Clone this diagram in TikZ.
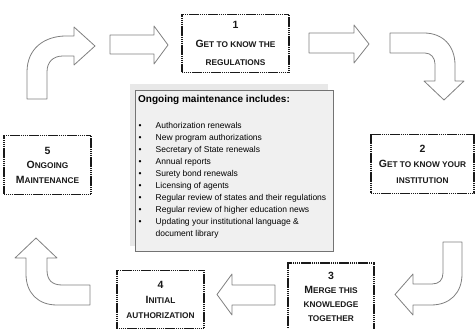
\documentclass[tikz,border=0pt]{standalone}
\usepackage{fontspec}
\setmainfont{Liberation Sans}
\newcommand\firstcap[2]{{\fontsize{10.5}{10.5}\selectfont #1}#2}

\begin{document}
\begin{tikzpicture}[x=1pt,y=-1pt,
  stepbox/.style={draw=black!90,line width=1.7pt,dash pattern=on 1.4pt off 0.5pt,
    align=center,inner sep=0pt,text=black!90,font=\bfseries\fontsize{8.3}{15}\selectfont},
  bigarrow/.style={draw=black!50,line width=0.8pt,fill=white,line join=round}]

\useasboundingbox (0,0) rectangle (475,329);

% block arrows round the cycle
\draw[bigarrow] (27,99) -- (27,72) .. controls (27,48) and (45,36) .. (66,36) -- (74,36) -- (74,27)
  -- (95,46) -- (74,65) -- (74,56) -- (63,56) .. controls (53,56) and (47,62) .. (47,72) -- (47,99) -- cycle;
\draw[bigarrow] (110,35) -- (154,35) -- (154,26) -- (168,45) -- (154,64) -- (154,54) -- (110,54) -- cycle;
\draw[bigarrow] (309,33) -- (354,33) -- (354,25) -- (369,44) -- (354,63) -- (354,53) -- (309,53) -- cycle;
\draw[bigarrow] (390,33) -- (424,33) .. controls (443,33) and (455,46) .. (455,65) -- (455,81) -- (464,81)
  -- (444,100) -- (424,81) -- (435,81) -- (435,64) .. controls (435,58) and (431,53) .. (425,53) -- (390,53) -- cycle;
\draw[bigarrow] (443,242) -- (462,242) -- (462,274) .. controls (462,293) and (450,305) .. (431,305) -- (413,305)
  -- (413,315) -- (395,294.5) -- (413,274) -- (413,284) -- (432,284) .. controls (439,284) and (443,280) .. (443,273) -- cycle;
\draw[bigarrow] (275,285) -- (232,285) -- (232,274) -- (217,294.5) -- (232,315) -- (232,305) -- (275,305) -- cycle;
\draw[bigarrow] (90,285) -- (62,285) .. controls (52,285) and (47,280) .. (47,270) -- (47,258) -- (57,258)
  -- (36,238) -- (15,258) -- (26,258) -- (26,274) .. controls (26,293) and (38,305) .. (57,305) -- (90,305) -- cycle;

% central box
\fill[gray!18] (130,84) rectangle (328,246);
\draw[draw=black!55,fill=gray!12,line width=0.7pt] (135,90) rectangle (333,251);
\node[anchor=base west,inner sep=0pt,font=\bfseries\fontsize{10}{12}\selectfont] (head) at (138,102.5)
  {Ongoing maintenance includes:};
\node[anchor=base west,inner sep=0pt,font=\fontsize{8.5}{12}\selectfont] (list) at (138.5,129)
  {\begin{tabular}[t]{@{}p{17pt}@{}l@{}}
   \textbullet & Authorization renewals\\
   \textbullet & New program authorizations\\
   \textbullet & Secretary of State renewals\\
   \textbullet & Annual reports\\
   \textbullet & Surety bond renewals\\
   \textbullet & Licensing of agents\\
   \textbullet & Regular review of states and their regulations\\
   \textbullet & Regular review of higher education news\\
   \textbullet & Updating your institutional language \&\\
               & document library
   \end{tabular}};

% steps
\node[stepbox,minimum width=107pt,minimum height=58pt,font=\bfseries\fontsize{8.3}{18.5}\selectfont] (s1) at (235.5,43.5)
  {{\fontsize{10.5}{10.5}\selectfont 1}\\\firstcap{G}{ET TO KNOW THE}\\REGULATIONS};
\node[stepbox,minimum width=103pt,minimum height=59pt,font=\bfseries\fontsize{8.3}{15.5}\selectfont] (s2) at (422.5,164)
  {{\fontsize{10.5}{10.5}\selectfont 2}\\\firstcap{G}{ET TO KNOW YOUR}\\INSTITUTION};
\node[stepbox,minimum width=86pt,minimum height=68pt,font=\bfseries\fontsize{8.3}{14}\selectfont] (s3) at (331,297)
  {{\fontsize{10.5}{10.5}\selectfont 3}\\\firstcap{M}{ERGE THIS}\\KNOWLEDGE\\TOGETHER};
\node[stepbox,minimum width=87pt,minimum height=58pt] (s4) at (160.5,299.5)
  {{\fontsize{10.5}{10.5}\selectfont 4}\\\firstcap{I}{NITIAL}\\AUTHORIZATION};
\node[stepbox,minimum width=87pt,minimum height=59pt,font=\bfseries\fontsize{8.3}{14.5}\selectfont] (s5) at (47.5,165)
  {{\fontsize{10.5}{10.5}\selectfont 5}\\\firstcap{O}{NGOING}\\\firstcap{M}{AINTENANCE}};
\end{tikzpicture}
\end{document}
